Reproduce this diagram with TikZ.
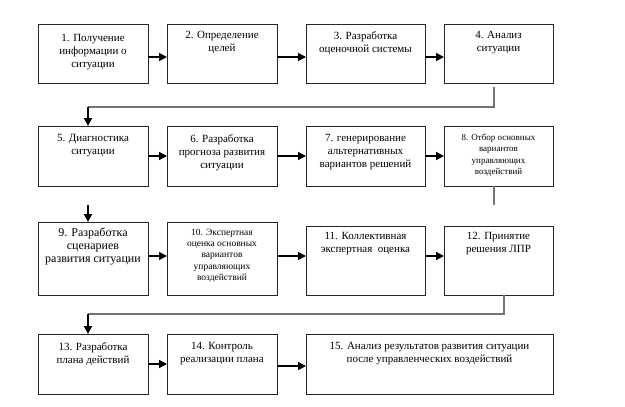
\documentclass[tikz,border=0pt]{standalone}
\usepackage{fontspec}
\setmainfont{Liberation Serif}
\usetikzlibrary{arrows.meta}
\tikzset{
  box/.style={draw=black!85, line width=0.8pt, fill=white, inner sep=0pt, outer sep=0pt},
  txt/.style={anchor=north, align=center, inner sep=0pt, font=\fontsize{11}{13}\selectfont},
  txtsmall/.style={anchor=north, align=center, inner sep=0pt, font=\fontsize{9}{11.3}\selectfont},
  txtmid/.style={anchor=north, align=center, inner sep=0pt, font=\fontsize{9.5}{11.2}\selectfont},
  txtbig/.style={anchor=north, align=center, inner sep=0pt, font=\fontsize{12}{13.2}\selectfont},
  arr/.style={line width=1.6pt, black, -{Triangle[length=8pt,width=8pt]}},
  gline/.style={line width=1.3pt, black!55},
}
\newcommand{\mybox}[5]{% name, x1, y1, x2, y2
  \path[box] (#2,#3) rectangle (#4,#5);
  \node[inner sep=0pt, outer sep=0pt, minimum width={(#4-#2)*1pt}, minimum height={(#5-#3)*1pt}] (#1) at ({(#2+#4)/2},{(#3+#5)/2}) {};
}
\begin{document}
\begin{tikzpicture}[x=1pt,y=-1pt]
\useasboundingbox[fill=white] (0,0) rectangle (625,407);
% Row 1
\mybox{b1}{38}{24}{148}{83}
\mybox{b2}{167}{24}{277}{83}
\mybox{b3}{306}{24}{425}{83}
\mybox{b4}{444}{24}{553}{83}
% Row 2
\mybox{b5}{38}{126}{148}{186}
\mybox{b6}{167}{126}{277}{186}
\mybox{b7}{306}{126}{425}{186}
\mybox{b8}{444}{126}{553}{186}
% Row 3
\mybox{b9}{38}{222}{148}{295}
\mybox{b10}{167}{222}{277}{295}
\mybox{b11}{306}{226}{425}{295}
\mybox{b12}{444}{226}{553}{295}
% Row 4
\mybox{b13}{38}{334}{148}{394}
\mybox{b14}{167}{334}{277}{394}
\mybox{b15}{306}{334}{553}{394}

% Texts
\node[txt] (t1) at ([yshift=-10pt]b1.north) {1. Получение\\информации о\\ситуации};
\node[txt] (t2) at ([yshift=-7pt]b2.north) {2. Определение\\целей};
\node[txt] (t3) at ([yshift=-7pt]b3.north) {3. Разработка\\оценочной системы};
\node[txt] (t4) at ([yshift=-7pt]b4.north) {4. Анализ\\ситуации};
\node[txt] (t5) at ([yshift=-8pt]b5.north) {5. Диагностика\\ситуации};
\node[txt] (t6) at ([yshift=-8pt]b6.north) {6. Разработка\\прогноза развития\\ситуации};
\node[txt] (t7) at ([yshift=-8pt]b7.north) {7. генерирование\\альтернативных\\вариантов решений};
\node[txtsmall] (t8) at ([yshift=-8pt]b8.north) {8. Отбор основных\\вариантов\\управляющих\\воздействий};
\node[txtbig] (t9) at ([yshift=-5.5pt]b9.north) {9. Разработка\\сценариев\\развития ситуации};
\node[txtmid] (t10) at ([yshift=-7pt]b10.north) {10. Экспертная\\оценка основных\\вариантов\\управляющих\\воздействий};
\node[txt] (t11) at ([yshift=-6pt]b11.north) {11. Коллективная\\экспертная\ \ оценка};
\node[txt] (t12) at ([yshift=-6pt]b12.north) {12. Принятие\\решения ЛПР};
\node[txt] (t13) at ([yshift=-8pt]b13.north) {13. Разработка\\плана действий};
\node[txt] (t14) at ([yshift=-8pt]b14.north) {14. Контроль\\реализации плана};
\node[txt] (t15) at ([yshift=-8pt]b15.north) {15. Анализ результатов развития ситуации\\после управленческих воздействий};

% Row 1 arrows
\draw[arr] (b1.east |- 0,57) -- (b2.west |- 0,57);
\draw[arr] (b2.east |- 0,57) -- (b3.west |- 0,57);
\draw[arr] (b3.east |- 0,57) -- (b4.west |- 0,57);
% b4 -> b5
\coordinate (c4a) at (494,87);
\coordinate (c4b) at (494,107);
\coordinate (c4c) at (88,107);
\draw[gline] (c4a) -- (c4b) -- (c4c);
\draw[arr] (c4c) -- (b5.north -| c4c);
% Row 2 arrows
\draw[arr] (b5.east |- 0,156) -- (b6.west |- 0,156);
\draw[arr] (b6.east |- 0,156) -- (b7.west |- 0,156);
\draw[arr] (b7.east |- 0,156) -- (b8.west |- 0,156);
% b8 stub and arrow to b9
\coordinate (c8b) at (494,205);
\draw[gline] (b8.south -| c8b) -- (c8b);
\coordinate (c5a) at (88,205);
\draw[arr] (c5a) -- (b9.north -| c5a);
% Row 3 arrows
\draw[arr] (b9.east |- 0,256) -- (b10.west |- 0,256);
\draw[arr] (b10.east |- 0,256) -- (b11.west |- 0,256);
\draw[arr] (b11.east |- 0,256) -- (b12.west |- 0,256);
% b12 -> b13
\coordinate (c12b) at (504,314);
\coordinate (c12c) at (88,314);
\draw[gline] (b12.south -| c12b) -- (c12b) -- (c12c);
\draw[arr] (c12c) -- (b13.north -| c12c);
% Row 4 arrows
\draw[arr] (b13.east |- 0,364) -- (b14.west |- 0,364);
\draw[arr] (b14.east |- 0,366) -- (b15.west |- 0,366);
\end{tikzpicture}
\end{document}
